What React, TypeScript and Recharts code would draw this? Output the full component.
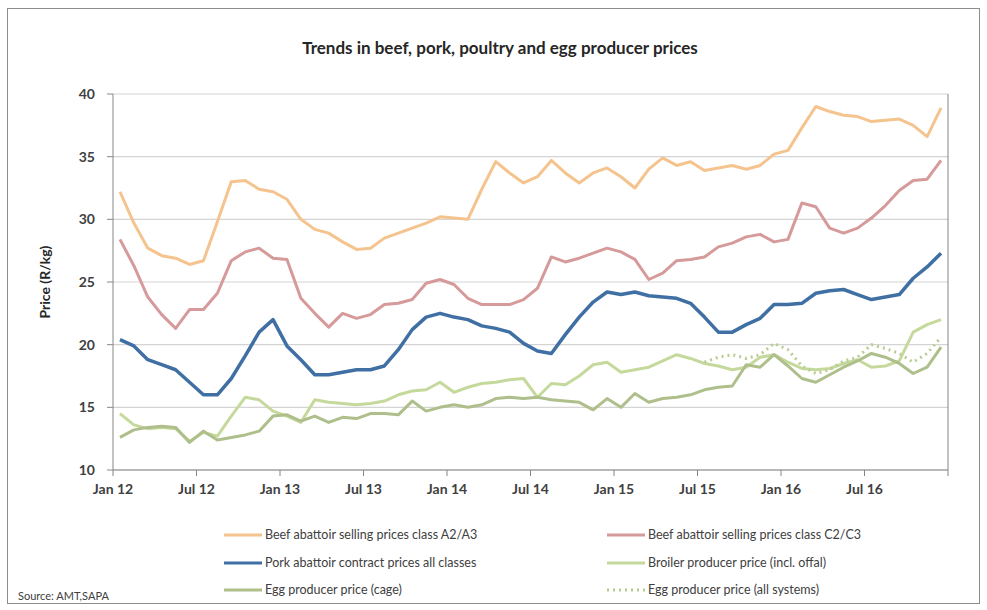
import { LineChart, Line, XAxis, YAxis, CartesianGrid, ReferenceLine } from 'recharts'

// monthly values, Jan 2012 .. Dec 2016 (R/kg)
const beefA2A3 = [
  32.2, 29.7, 27.7, 27.1, 26.9, 26.4, 26.7, 29.8, 33.0, 33.1, 32.4, 32.2,
  31.6, 30.0, 29.2, 28.9, 28.2, 27.6, 27.7, 28.5, 28.9, 29.3, 29.7, 30.2,
  30.1, 30.0, 32.4, 34.6, 33.7, 32.9, 33.4, 34.7, 33.7, 32.9, 33.7, 34.1,
  33.4, 32.5, 34.0, 34.9, 34.3, 34.6, 33.9, 34.1, 34.3, 34.0, 34.3, 35.2,
  35.5, 37.3, 39.0, 38.6, 38.3, 38.2, 37.8, 37.9, 38.0, 37.5, 36.6, 38.9,
]
const beefC2C3 = [
  28.4, 26.3, 23.8, 22.4, 21.3, 22.8, 22.8, 24.1, 26.7, 27.4, 27.7, 26.9,
  26.8, 23.7, 22.5, 21.4, 22.5, 22.1, 22.4, 23.2, 23.3, 23.6, 24.9, 25.2,
  24.8, 23.7, 23.2, 23.2, 23.2, 23.6, 24.5, 27.0, 26.6, 26.9, 27.3, 27.7,
  27.4, 26.8, 25.2, 25.7, 26.7, 26.8, 27.0, 27.8, 28.1, 28.6, 28.8, 28.2,
  28.4, 31.3, 31.0, 29.3, 28.9, 29.3, 30.1, 31.1, 32.3, 33.1, 33.2, 34.7,
]
const pork = [
  20.4, 19.9, 18.8, 18.4, 18.0, 17.0, 16.0, 16.0, 17.3, 19.1, 21.0, 22.0,
  19.9, 18.8, 17.6, 17.6, 17.8, 18.0, 18.0, 18.3, 19.6, 21.2, 22.2, 22.5,
  22.2, 22.0, 21.5, 21.3, 21.0, 20.1, 19.5, 19.3, 20.8, 22.2, 23.4, 24.2,
  24.0, 24.2, 23.9, 23.8, 23.7, 23.3, 22.2, 21.0, 21.0, 21.6, 22.1, 23.2,
  23.2, 23.3, 24.1, 24.3, 24.4, 24.0, 23.6, 23.8, 24.0, 25.3, 26.2, 27.3,
]
const broiler = [
  14.5, 13.6, 13.3, 13.4, 13.3, 12.3, 13.0, 12.7, 14.3, 15.8, 15.6, 14.7,
  14.3, 13.8, 15.6, 15.4, 15.3, 15.2, 15.3, 15.5, 16.0, 16.3, 16.4, 17.0,
  16.2, 16.6, 16.9, 17.0, 17.2, 17.3, 15.8, 16.9, 16.8, 17.5, 18.4, 18.6,
  17.8, 18.0, 18.2, 18.7, 19.2, 18.9, 18.5, 18.3, 18.0, 18.2, 19.0, 19.2,
  18.6, 18.1, 18.0, 18.1, 18.5, 18.8, 18.2, 18.3, 18.7, 21.0, 21.6, 22.0,
]
const eggCage = [
  12.6, 13.2, 13.4, 13.5, 13.4, 12.2, 13.1, 12.4, 12.6, 12.8, 13.1, 14.3,
  14.4, 13.9, 14.3, 13.8, 14.2, 14.1, 14.5, 14.5, 14.4, 15.5, 14.7, 15.0,
  15.2, 15.0, 15.2, 15.7, 15.8, 15.7, 15.8, 15.6, 15.5, 15.4, 14.8, 15.7,
  15.0, 16.1, 15.4, 15.7, 15.8, 16.0, 16.4, 16.6, 16.7, 18.4, 18.2, 19.2,
  18.3, 17.3, 17.0, 17.6, 18.2, 18.7, 19.3, 19.0, 18.5, 17.7, 18.2, 19.8,
]
// all systems series only starts in Jul 2015
const eggAllStart = 42
const eggAll = [
  18.6, 19.0, 19.2, 18.9, 19.2, 20.1, 19.6, 18.3, 17.7, 18.0, 18.7, 19.0,
  20.0, 19.7, 19.3, 18.6, 19.3, 20.6,
]
const tickLabels = ['Jan 12', 'Jul 12', 'Jan 13', 'Jul 13', 'Jan 14', 'Jul 14', 'Jan 15', 'Jul 15', 'Jan 16', 'Jul 16', '']
const yTicks = [10, 15, 20, 25, 30, 35, 40]

const data = beefA2A3.map((v, i) => ({
  x: i + 0.5,
  beefA: v,
  beefC: beefC2C3[i],
  pork: pork[i],
  broiler: broiler[i],
  eggCage: eggCage[i],
  eggAll: i >= eggAllStart ? eggAll[i - eggAllStart] : null,
}))

const FONT = 'Lato, "Open Sans", sans-serif'

const series = [
  { key: 'beefA', name: 'Beef abattoir selling prices class A2/A3', color: '#F5C48E', width: 3 },
  { key: 'beefC', name: 'Beef abattoir selling prices class C2/C3', color: '#D69A9A', width: 3 },
  { key: 'pork', name: 'Pork abattoir contract prices all classes', color: '#3F6FA3', width: 3.5 },
  { key: 'broiler', name: 'Broiler producer price (incl. offal)', color: '#C6D99C', width: 3 },
  { key: 'eggCage', name: 'Egg producer price (cage)', color: '#AEBF8C', width: 3 },
  { key: 'eggAll', name: 'Egg producer price (all systems)', color: '#B9CC92', width: 3, dash: '2 4' },
]

function LegendItem({ s, left, top }: { s: any; left: number; top: number }) {
  return (
    <div style={{ position: 'absolute', left, top, display: 'flex', alignItems: 'center', fontFamily: FONT, fontSize: 12.5, color: '#404040', whiteSpace: 'nowrap' }}>
      <svg width={38} height={6} style={{ marginRight: 3 }}>
        <line x1={0} y1={3} x2={38} y2={3} stroke={s.color} strokeWidth={3} strokeDasharray={s.dash} />
      </svg>
      {s.name}
    </div>
  )
}

export default function App() {
  const tickStyle = { fontFamily: FONT, fontSize: 14, fontWeight: 700, fill: '#404040' }
  return (
    <div style={{ position: 'absolute', left: 0, top: 0, width: 987, height: 610, background: '#fff' }}>
      <div style={{ position: 'absolute', left: 7, top: 8, width: 973, height: 596, border: '1px solid #8c8c8c', boxSizing: 'border-box' }} />
      <div style={{ position: 'absolute', left: 0, top: 37, width: 1000, textAlign: 'center', fontFamily: FONT, fontWeight: 700, fontSize: 17, color: '#262626' }}>
        Trends in beef, pork, poultry and egg producer prices
      </div>
      <div style={{ position: 'absolute', left: 0, top: 0 }}>
        <LineChart width={987} height={610} data={data} margin={{ top: 94, right: 39, left: 0, bottom: 0 }}>
          <CartesianGrid horizontal vertical={false} stroke="#D4D4D4" strokeWidth={1.2} />
          <XAxis
            type="number"
            dataKey="x"
            domain={[0, 60]}
            ticks={[0, 6, 12, 18, 24, 30, 36, 42, 48, 54, 60]}
            tickFormatter={(v: number) => tickLabels[v / 6]}
            interval={0}
            height={140}
            tickSize={6}
            tickMargin={8}
            stroke="#868686"
            tick={tickStyle}
          />
          <YAxis
            domain={[10, 40]}
            ticks={yTicks}
            width={113}
            tickSize={6}
            tickMargin={12}
            stroke="#868686"
            tick={tickStyle}
            label={{ value: 'Price (R/kg)', angle: -90, position: 'insideLeft', offset: 45, style: { fontFamily: FONT, fontSize: 14, fontWeight: 700, fill: '#262626', textAnchor: 'middle' } }}
          />
          <ReferenceLine x={60} stroke="#868686" />
          {series.map((s) => (
            <Line
              key={s.key}
              type="linear"
              dataKey={s.key}
              name={s.name}
              stroke={s.color}
              strokeWidth={s.width}
              strokeDasharray={s.dash}
              strokeLinejoin="round"
              dot={false}
              connectNulls={false}
              isAnimationActive={false}
            />
          ))}
        </LineChart>
      </div>
      <LegendItem s={series[0]} left={224} top={527} />
      <LegendItem s={series[1]} left={607} top={527} />
      <LegendItem s={series[2]} left={224} top={555} />
      <LegendItem s={series[3]} left={607} top={555} />
      <LegendItem s={series[4]} left={224} top={582} />
      <LegendItem s={series[5]} left={607} top={582} />
      <div style={{ position: 'absolute', left: 18, top: 589, fontFamily: FONT, fontSize: 11, color: '#404040' }}>Source: AMT,SAPA</div>
    </div>
  )
}
